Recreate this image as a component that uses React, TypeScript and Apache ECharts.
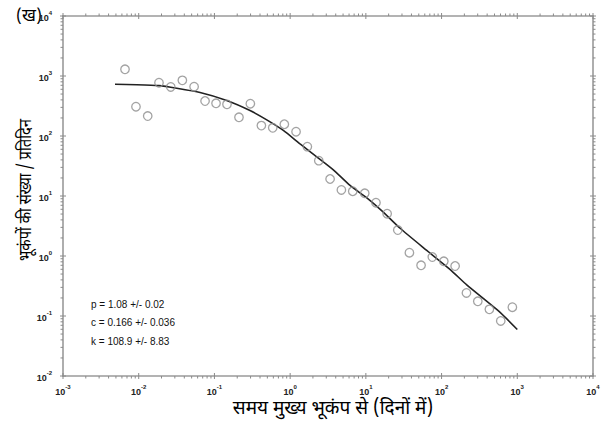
import React, { useEffect, useRef } from "react";
import * as echarts from "echarts";

// Observed aftershock rate (days since main shock, events per day)
const obsDays = [
  0.00659, 0.0092, 0.01315, 0.01853, 0.0265, 0.0377, 0.0539, 0.0752, 0.105, 0.1465,
  0.211, 0.298, 0.417, 0.589, 0.838, 1.197, 1.687, 2.39, 3.37, 4.75,
  6.71, 9.67, 13.6, 19.1, 26.4, 37.6, 53.6, 75.5, 107, 151,
  213, 301, 428, 605, 861,
];
const obsRate = [
  1294, 308, 215, 773, 656, 847, 663, 383, 351, 337,
  205, 345, 149, 137, 157, 118, 66.4, 38.8, 19.2, 12.6,
  12.0, 11.1, 7.73, 5.07, 2.71, 1.135, 0.7, 0.962, 0.816, 0.681,
  0.242, 0.176, 0.129, 0.0826, 0.14,
];

// Fitted curve
const fitDays = [
  0.00486, 0.00942, 0.0185, 0.0318, 0.0646, 0.1453, 0.295, 0.491, 0.813, 1.352,
  2.245, 3.72, 6.18, 10.3, 17.0, 28.3, 63.7, 129, 215, 593, 1000,
];
const fitRate = [
  727, 716, 690, 624, 530, 391, 266, 186, 124, 74,
  45, 27.3, 15.0, 9.3, 5.37, 2.9, 1.24, 0.6, 0.33, 0.115, 0.0595,
];

const xTickExponents = [-3, -2, -1, 0, 1, 2, 3, 4];
const yTickExponents = [-2, -1, 0, 1, 2, 3, 4];

const fitLines = ["p = 1.08 +/- 0.02", "c = 0.166 +/- 0.036", "k = 108.9 +/- 8.83"];
const panelLabel = "(ख)";
const xTitle = "समय मुख्य भूकंप से (दिनों में)";
const yTitle = "भूकंपों की संख्या / प्रतिदिन";

const DEVA = '"Noto Sans Devanagari", "Lohit Devanagari", "Noto Sans", sans-serif';
const SANS = '"Liberation Sans", Arial, sans-serif';
const FRAME = "#9a9a9a";

export default function App() {
  const ref = useRef<HTMLDivElement>(null);
  useEffect(() => {
    if (!ref.current) return;
    const chart = echarts.init(ref.current, undefined, { renderer: "svg" });

    const xMin = Math.pow(10, xTickExponents[0]);
    const xMax = Math.pow(10, xTickExponents[xTickExponents.length - 1]);
    const yMin = Math.pow(10, yTickExponents[0]);
    const yMax = Math.pow(10, yTickExponents[yTickExponents.length - 1]);

    // tick marks on all four sides: [x, y, side, major]
    const ticks: number[][] = [];
    xTickExponents.forEach((e, i) => {
      const base = Math.pow(10, e);
      ticks.push([base, yMin, 0, 1], [base, yMax, 1, 1]);
      if (i < xTickExponents.length - 1) {
        for (let m = 2; m <= 9; m++) {
          ticks.push([base * m, yMin, 0, 0], [base * m, yMax, 1, 0]);
        }
      }
    });
    yTickExponents.forEach((e, i) => {
      const base = Math.pow(10, e);
      ticks.push([xMin, base, 2, 1], [xMax, base, 3, 1]);
      if (i < yTickExponents.length - 1) {
        for (let m = 2; m <= 9; m++) {
          ticks.push([xMin, base * m, 2, 0], [xMax, base * m, 3, 0]);
        }
      }
    });

    const labelFmt = (v: number) => {
      const e = Math.round(Math.log10(v));
      return `{a|10}{b|${e}}`;
    };
    const rich = {
      a: { fontSize: 9, fontWeight: "bold", fontFamily: SANS, color: "#222", lineHeight: 12, verticalAlign: "bottom" },
      b: { fontSize: 6, fontWeight: "bold", fontFamily: SANS, color: "#222", lineHeight: 8, verticalAlign: "top" },
    };
    const frameAxis = {
      type: "log", logBase: 10,
      axisLine: { show: true, onZero: false, lineStyle: { color: FRAME, width: 1.6 } },
      axisTick: { show: false }, splitLine: { show: false }, axisLabel: { show: false },
    };

    chart.setOption({
      animation: false,
      backgroundColor: "#fff",
      grid: { left: 63, right: 14, top: 16, bottom: 47 },
      xAxis: [
        {
          ...frameAxis, min: xMin, max: xMax, position: "bottom",
          axisLabel: { show: true, formatter: labelFmt, rich, margin: 8 },
        },
        { ...frameAxis, min: xMin, max: xMax, position: "top" },
      ],
      yAxis: [
        {
          ...frameAxis, min: yMin, max: yMax, position: "left",
          axisLabel: { show: true, formatter: labelFmt, rich, margin: 11 },
        },
        { ...frameAxis, min: yMin, max: yMax, position: "right" },
      ],
      series: [
        {
          type: "custom",
          silent: true,
          clip: false,
          data: ticks,
          renderItem: (params: any, api: any) => {
            const p = api.coord([api.value(0), api.value(1)]);
            const side = api.value(2);
            const major = api.value(3) === 1;
            const a = major ? 3 : 0;
            const b = major ? 3 : 2.5;
            let shape;
            if (side === 0) shape = { x1: p[0], y1: p[1] - a, x2: p[0], y2: p[1] + b };
            else if (side === 1) shape = { x1: p[0], y1: p[1] + a, x2: p[0], y2: p[1] - b };
            else if (side === 2) shape = { x1: p[0] + a, y1: p[1], x2: p[0] - b, y2: p[1] };
            else shape = { x1: p[0] - a, y1: p[1], x2: p[0] + b, y2: p[1] };
            return { type: "line", shape, style: { stroke: "#8a8a8a", lineWidth: 1 } };
          },
          z: 1,
        },
        {
          type: "line",
          data: fitDays.map((d, i) => [d, fitRate[i]]),
          showSymbol: false,
          smooth: 0.2,
          lineStyle: { color: "#222", width: 1.6 },
          z: 2,
        },
        {
          type: "scatter",
          data: obsDays.map((d, i) => [d, obsRate[i]]),
          symbol: "circle",
          symbolSize: 8.5,
          itemStyle: { color: "transparent", borderColor: "#8c8c8c", borderWidth: 1.3 },
          z: 3,
        },
      ],
      graphic: [
        {
          type: "text", x: 29, y: 17,
          style: { text: panelLabel, fill: "#000", font: `17px ${DEVA}`, align: "center", verticalAlign: "middle" },
        },
        {
          type: "text", x: 333, y: 409,
          style: { text: xTitle, fill: "#000", font: `19px ${DEVA}`, align: "center", verticalAlign: "middle" },
        },
        {
          type: "text", x: 27, y: 190, rotation: Math.PI / 2, scaleX: 0.82,
          style: { text: yTitle, fill: "#000", font: `18px ${DEVA}`, align: "center", verticalAlign: "middle" },
        },
        ...fitLines.map((t, i) => ({
          type: "text", x: 91, y: 304 + i * 18.5,
          style: { text: t, fill: "#111", font: `10px ${SANS}`, align: "left", verticalAlign: "middle" },
        })),
      ],
    });
    return () => chart.dispose();
  }, []);
  return <div ref={ref} style={{ position: "fixed", left: 0, top: 0, width: 607, height: 423 }} />;
}
